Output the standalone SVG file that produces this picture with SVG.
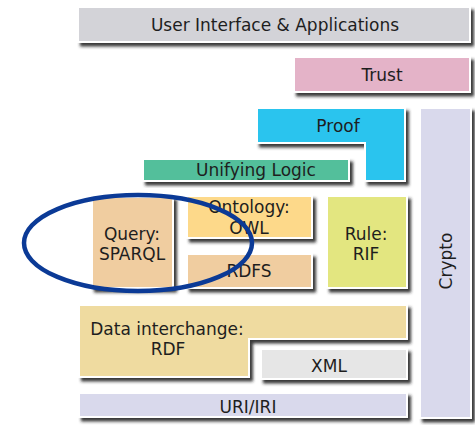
<svg xmlns="http://www.w3.org/2000/svg" width="475" height="425" viewBox="0 0 475 425">
<defs>
<filter id="sh" x="-10%" y="-10%" width="130%" height="140%">
<feDropShadow dx="3" dy="3.5" stdDeviation="1.5" flood-color="#222222" flood-opacity="0.9"/>
</filter>
<style>
.b{stroke:#ffffff;stroke-width:2;filter:url(#sh)}
text{font-family:"DejaVu Sans","Verdana",sans-serif;font-size:17px;fill:#1e1e1e;text-anchor:middle}
</style>
</defs>
<rect width="475" height="425" fill="#ffffff"/>
<g id="ui"><rect class="b" x="78" y="7" width="392" height="35" fill="#d3d3d8"/><text x="275" y="31">User Interface &amp; Applications</text></g>
<g id="trust"><rect class="b" x="294" y="57" width="176" height="35" fill="#e4b3c8"/><text x="382" y="81">Trust</text></g>
<g id="crypto"><rect class="b" x="420" y="108" width="51" height="310" fill="#d9d9ec"/><text transform="translate(452,261) rotate(-90)" x="0" y="0">Crypto</text></g>
<g id="proof"><path class="b" d="M257,108 H405 V181 H365 V143 H257 Z" fill="#2bc4ee"/><text x="338" y="132">Proof</text></g>
<g id="logic"><rect class="b" x="143" y="159" width="206" height="22" fill="#52bf9b"/><text x="256" y="176">Unifying Logic</text></g>
<g id="query"><rect class="b" x="92" y="197" width="81" height="91" fill="#f0cda0"/><text x="132" y="240">Query:</text><text x="132" y="260">SPARQL</text></g>
<g id="ontology"><rect class="b" x="187" y="196" width="125" height="42" fill="#fdd98a"/><text x="249" y="213">Ontology:</text><text x="249" y="234">OWL</text></g>
<g id="rdfs"><rect class="b" x="187" y="254" width="125" height="34" fill="#f0cda0"/><text x="249" y="277">RDFS</text></g>
<g id="rule"><rect class="b" x="327" y="196" width="80" height="92" fill="#e3e680"/><text x="366" y="240">Rule:</text><text x="366" y="260">RIF</text></g>
<g id="rdf"><path class="b" d="M79,305 H407 V339 H249 V377 H79 Z" fill="#efdba0"/><text x="167" y="335">Data interchange:</text><text x="168" y="355">RDF</text></g>
<g id="xml"><rect class="b" x="261" y="349" width="146" height="30" fill="#e6e6e6"/><text x="329" y="372">XML</text></g>
<g id="uri"><rect class="b" x="79" y="393" width="328" height="24" fill="#d9d9ec"/><text x="248" y="413">URI/IRI</text></g>
<g id="connectors"><ellipse cx="138" cy="243" rx="114" ry="48" fill="none" stroke="#0b3a96" stroke-width="4.5"/></g>
</svg>
